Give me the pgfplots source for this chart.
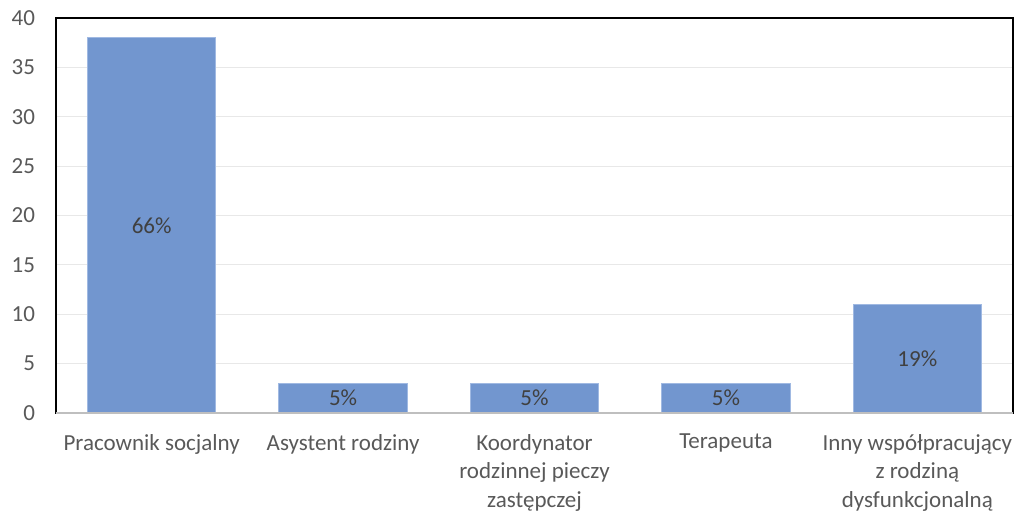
\documentclass[border=0pt]{standalone}
\usepackage{pgfplots}
\pgfplotsset{compat=1.18}
\usepackage{pgfplotstable}
\usepackage{fontspec}
\setmainfont{Carlito}
\usetikzlibrary{calc}
\definecolor{barblue}{RGB}{114,150,207}
\definecolor{baredge}{RGB}{160,185,226}
\definecolor{tickgray}{RGB}{89,89,89}
\definecolor{labgray}{RGB}{64,64,64}
\definecolor{gridgray}{RGB}{232,232,232}
\definecolor{basegray}{RGB}{191,191,191}
\pgfplotstableread{
x y pct
0 38 66
1 3 5
2 3 5
3 3 5
4 11 19
}\datatab
\begin{document}
\begin{tikzpicture}
\begin{axis}[
  name=ax,
  scale only axis,
  width=478.5pt, height=197.5pt,
  xmin=-0.5, xmax=4.5, ymin=0, ymax=40,
  ytick={0,5,...,40},
  xtick={0,1,2,3,4},
  xticklabels={Pracownik socjalny, Asystent rodziny, Koordynator\\rodzinnej pieczy\\zastępczej, Terapeuta, Inny współpracujący\\z rodziną\\dysfunkcjonalną},
  major tick length=0pt,
  tick style={draw=none},
  ymajorgrids,
  grid style={gridgray, line width=0.6pt},
  axis line style={black, line width=0.8pt},
  /pgf/number format/assume math mode=true,
  tick label style={font=\fontsize{11.5}{14.3}\selectfont, text=tickgray},
  xticklabel style={align=center, yshift=-7pt},
  yticklabel style={xshift=-7pt},
  clip=false,
  axis on top=false,
]
\addplot[ybar, bar width=0.67, fill=barblue, draw=baredge, line width=0.5pt] table[x=x, y=y] {\datatab};
\addplot[only marks, mark=none, point meta=explicit,
  nodes near coords={\pgfmathprintnumber{\pgfplotspointmeta}\%},
  nodes near coords style={anchor=center, font=\fontsize{11.5}{14}\selectfont, text=labgray}]
  table[x=x, y expr=\thisrow{y}/2, meta=pct] {\datatab};
\draw[basegray, line width=1pt] (rel axis cs:0,0) -- (rel axis cs:1,0);
\end{axis}
\pgfresetboundingbox
\path ($(ax.south west)+(-28pt,-50.5pt)$) rectangle ($(ax.north east)+(1.5pt,9pt)$);
\end{tikzpicture}
\end{document}
